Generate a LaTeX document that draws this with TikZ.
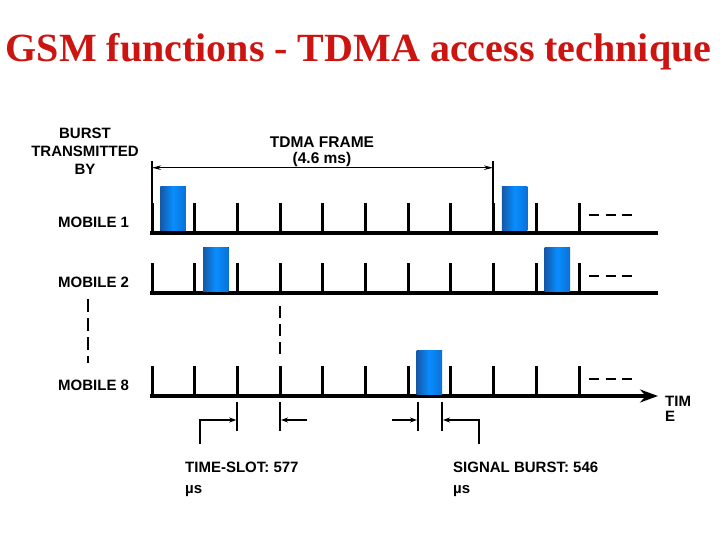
\documentclass[tikz,border=0pt]{standalone}
\usepackage{fontspec}
\setmainfont{Liberation Sans}
\newfontfamily\titlefont{Liberation Serif}
\usetikzlibrary{arrows.meta}
\definecolor{titlered}{RGB}{204,20,16}
\definecolor{burstdark}{RGB}{22,88,168}
\definecolor{burstlight}{RGB}{8,142,255}
\definecolor{burstright}{RGB}{10,112,215}
\begin{document}
\begin{tikzpicture}[x=1pt,y=-1pt,
  lbl/.style={font=\bfseries\fontsize{15}{18}\selectfont, inner sep=0pt},
  base/.style={line width=4pt},
  tickmark/.style={line width=3pt},
  burst/.style={left color=burstdark, right color=burstright, middle color=burstlight, draw=none},
  dashmark/.style={line width=2pt},
  markline/.style={line width=2pt},
  sarrow/.style={-{Stealth[length=7pt,width=5pt]}, line width=1.5pt},
  vdash/.style={line width=2pt}
]
\useasboundingbox (0,0) rectangle (720,540);
\fill[white] (0,0) rectangle (720,540);

% title
\node[font=\titlefont\bfseries\fontsize{40}{44}\selectfont, text=titlered, inner sep=0pt, anchor=base] (title) at (358.5,62) {GSM functions - TDMA access technique};

% left labels
\node[lbl, align=center, anchor=north] (burstby) at (85,128.3) {BURST\\TRANSMITTED\\BY};
\node[lbl, anchor=north west] (m1) at (58,217.3) {MOBILE 1};
\node[lbl, anchor=north west] (m2) at (58,277.3) {MOBILE 2};
\node[lbl, anchor=north west] (m8) at (58,380) {MOBILE 8};
\draw[vdash, dash pattern=on 13pt off 6pt] (87.5,299) -- (87.5,363);

% rows: baselines and ticks
\foreach \b in {233,293} {
  \draw[base] (150,\b) -- (658,\b);
}
\draw[base, -{Stealth[length=18pt,width=13pt,inset=6pt]}] (150,396) -- (658,396);
\foreach \b in {233,293,396} {
  \foreach \i in {0,...,10} {
    \draw[tickmark] ({152+42.7*\i},\b) -- ({152+42.7*\i},\b-30);
  }
  \draw[dashmark, dash pattern=on 10pt off 6.5pt] (589,\b-17.5) -- (632,\b-17.5);
}

% bursts
\foreach \s/\b in {0/233,8/233,1/293,9/293,6/396} {
  \fill[burst] ({152+42.7*\s+8.3},\b-46) rectangle ({152+42.7*\s+33.8},\b-2);
}

% dashed separator under mobile 2
\draw[vdash, dash pattern=on 11.5pt off 6.5pt] (280,306) -- (280,354);

% TDMA frame dimension
\node[lbl, font=\bfseries\fontsize{15.5}{16}\selectfont, align=center, anchor=north] (frame) at (322,136.5) {TDMA FRAME\\(4.6 ms)};
\coordinate (fL) at (152,167.7);
\coordinate (fR) at (493,167.7);
\draw[line width=1.3pt] (152,161) -- (152,203);
\draw[line width=1.3pt] (493,161) -- (493,203);
\draw[line width=1.3pt, {Stealth[length=9pt,width=4.5pt]}-{Stealth[length=9pt,width=4.5pt]}] (fL) -- (fR);

% time label
\node[lbl, font=\bfseries\fontsize{15}{15}\selectfont, align=left, anchor=north west] (time) at (665,395.5) {TIM\\E};

% time-slot markers
\draw[markline] (237.3,402) -- (237.3,431);
\draw[markline] (280,402) -- (280,431);
\coordinate (tsA) at (200,444);
\coordinate (tsB) at (200,420);
\coordinate (tsC) at (236.3,420);
\coordinate (tsD) at (307,420);
\coordinate (tsE) at (281,420);
\draw[sarrow] (tsA) -- (tsB) -- (tsC);
\draw[sarrow] (tsD) -- (tsE);

% burst markers
\draw[markline] (418,402) -- (418,431);
\draw[markline] (442,402) -- (442,431);
\coordinate (sbA) at (392,420);
\coordinate (sbB) at (417,420);
\coordinate (sbC) at (479,444);
\coordinate (sbD) at (479,420);
\coordinate (sbE) at (443,420);
\draw[sarrow] (sbA) -- (sbB);
\draw[sarrow] (sbC) -- (sbD) -- (sbE);

% labels below
\node[lbl, font=\bfseries\fontsize{15}{21}\selectfont, align=left, anchor=north west] (tslabel) at (185,462.3) {TIME-SLOT: 577\\µs};
\node[lbl, font=\bfseries\fontsize{15}{21}\selectfont, align=left, anchor=north west] (sblabel) at (453,462.3) {SIGNAL BURST: 546\\µs};
\end{tikzpicture}
\end{document}
